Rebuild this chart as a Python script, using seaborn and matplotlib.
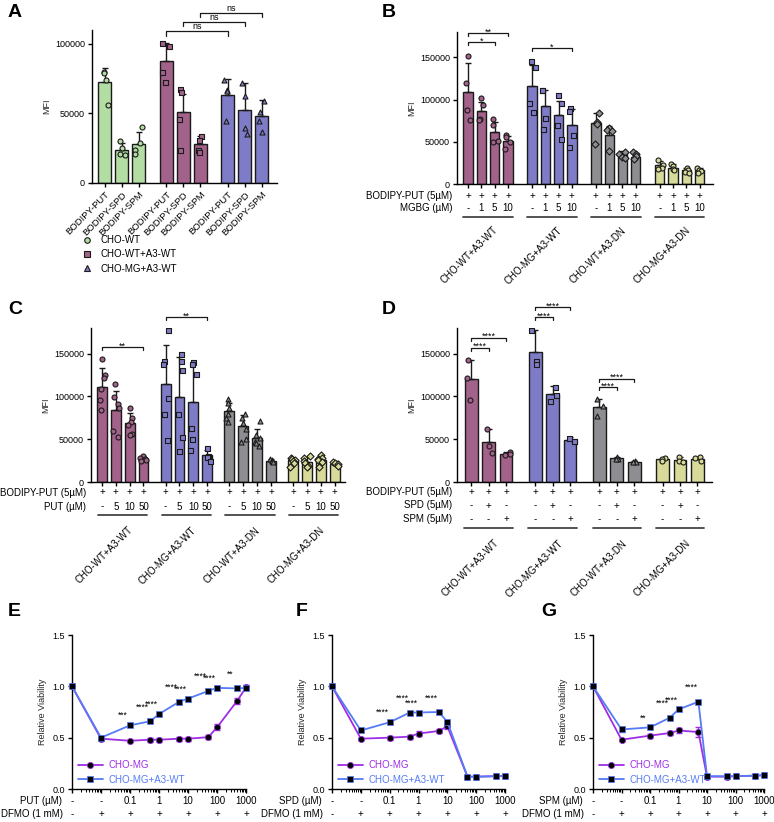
import numpy as np
import pandas as pd
import matplotlib
matplotlib.use('Agg')
import matplotlib.pyplot as plt
import matplotlib.transforms as mtrans
from matplotlib.lines import Line2D
from matplotlib.ticker import NullFormatter, FormatStrFormatter
import seaborn as sns

# ── Data ──────────────────────────────────────────────────────────────────────
# Panel A: uptake of labelled polyamines
a_lines = ['CHO-WT', 'CHO-WT+A3-WT', 'CHO-MG+A3-WT']
a_probes = ['BODIPY-PUT', 'BODIPY-SPD', 'BODIPY-SPM']
a_mean = [72500, 24000, 28000, 88000, 51000, 28000, 63000, 52500, 48000]
a_sd = [10500, 5000, 8500, 13000, 13000, 5500, 12000, 19500, 12000]
a_pts = [[80000, 79000, 74000, 56000], [30000, 25000, 21000, 20000],
         [40500, 29000, 24000, 20500], [100500, 98500, 80000, 72500],
         [67500, 65500, 46000, 24000], [33500, 31000, 23500, 22500],
         [74000, 67000, 66500, 44500], [72000, 62500, 39500, 35500],
         [59000, 51000, 44500, 36500]]
a_sig = [(3, 6, 109000, 'ns'), (4, 7, 115600, 'ns'), (5, 8, 122300, 'ns')]

cell_lines = ['CHO-WT+A3-WT', 'CHO-MG+A3-WT', 'CHO-WT+A3-DN', 'CHO-MG+A3-DN']

# Panel B: MGBG competition
b_mgbg = ['-', '1', '5', '10']
b_mean = [109000, 87000, 61500, 51000, 116500, 92000, 81500, 69500,
          72500, 57500, 35500, 32500, 22000, 19500, 16000, 16000]
b_sd = [34000, 10000, 12500, 6000, 25000, 19000, 16500, 19500,
        11500, 11500, 3000, 4000, 5000, 4000, 3500, 3000]
b_pts = [[152000, 120000, 88000, 75500], [102000, 94000, 77500, 76000],
         [76500, 70000, 51000, 50000], [57500, 56000, 50000, 41000],
         [145500, 138000, 96000, 85000], [111000, 111500, 78000, 65500],
         [105000, 96000, 70000, 53000], [90000, 87000, 57500, 43500],
         [84000, 73000, 71500, 47000], [66500, 64000, 62500, 39000],
         [38000, 35500, 32500, 31000], [38000, 35500, 33000, 29500],
         [28000, 22500, 19000, 17500], [24000, 21000, 17500, 16000],
         [19500, 17000, 14500, 13000], [19500, 17000, 15000, 13500]]
b_sig = [(0, 2, 167600, '*'), (0, 3, 179000, '**'), (4, 7, 160600, '*')]

# Panel C: PUT competition
c_put = ['-', '5', '10', '50']
c_mean = [111500, 84000, 68500, 27000, 114000, 99000, 93000, 31000,
          83000, 65000, 52000, 25000, 25500, 23500, 26000, 21500]
c_sd = [22000, 22500, 12500, 3000, 46000, 47500, 46000, 6500,
        9000, 13000, 10500, 2000, 3000, 6000, 4000, 3000]
c_pts = [[144000, 124500, 122000, 109000, 96000, 84500],
         [114000, 99000, 91000, 86000, 60000, 53000],
         [86500, 75000, 70000, 67000, 56000, 55000],
         [30000, 28500, 27000, 25500, 24500],
         [177500, 141000, 138000, 98500, 80000, 49500],
         [150000, 141000, 131000, 80000, 52500, 36000],
         [140500, 138500, 126000, 63500, 50000, 37500],
         [40000, 30000, 29000, 25000],
         [96500, 92000, 87000, 80000, 75000, 70000],
         [80000, 75000, 69000, 62000, 50000, 47000],
         [71000, 55000, 52000, 47000, 45000, 42000],
         [27000, 25500, 24500, 23500],
         [28500, 27000, 26000, 24000, 22000, 18000],
         [30000, 27500, 25000, 22000, 19000, 17000],
         [31000, 28000, 26500, 25500, 23000, 18000],
         [23500, 22000, 21000, 18500]]
c_sig = [(0, 3, 157800, '**'), (4, 7, 192700, '**')]

# Panel D: SPD / SPM competition
d_spd = ['-', '+', '-']
d_spm = ['-', '-', '+']
d_mean = [120500, 46500, 33000, 152500, 102500, 49500,
          88000, 27500, 23500, 26500, 25500, 27000]
d_sd = [22500, 15500, 2500, 25000, 9500, 3000, 9000, 2000, 1500, 2000, 4000, 2000]
d_pts = [[143000, 121000, 96000], [62500, 42000, 34000], [35500, 33000, 31500],
         [177500, 141000, 138000], [111000, 102000, 95000], [52000, 48500, 47500],
         [97000, 89000, 77500], [29500, 27000, 26500], [25000, 23500, 23000],
         [28000, 26500, 24500], [29000, 25000, 23000], [29000, 27500, 25000]]
d_sig = [(0, 1, 157000, '****'), (0, 2, 168700, '****'), (3, 4, 192400, '****'),
         (3, 5, 204100, '****'), (6, 7, 110600, '****'), (6, 8, 120800, '****')]

# Panels E-G: viability ('-' doses sit on the first two log positions)
dose = [0.001, 0.01, 0.1, 0.5, 1, 5, 10, 50, 100, 500, 1000]
dose_ticks = [0.001, 0.01, 0.1, 1, 10, 100, 1000]
dose_labels = ['-', '-', '0.1', '1', '10', '100', '1000']
dfmo_labels = ['-', '+', '+', '+', '+', '+', '+']

e_mg = [1.0, 0.49, 0.47, 0.48, 0.48, 0.49, 0.49, 0.505, 0.60, 0.86, 0.99]
e_mg_sem = [0.01, 0.01, 0.01, 0.02, 0.02, 0.02, 0.02, 0.02, 0.03, 0.03, 0.02]
e_a3 = [1.0, 0.50, 0.62, 0.66, 0.73, 0.85, 0.88, 0.955, 0.985, 0.98, 0.985]
e_a3_sem = [0.01, 0.02, 0.01, 0.01, 0.01, 0.02, 0.02, 0.02, 0.02, 0.02, 0.02]
e_stars = ['', '', '***', '****', '****', '****', '****', '****', '****', '**', '']

f_mg = [1.0, 0.49, 0.50, 0.51, 0.54, 0.565, 0.61, 0.12, 0.12, 0.125, 0.13]
f_mg_sem = [0.01, 0.01, 0.02, 0.02, 0.025, 0.02, 0.03, 0.01, 0.01, 0.01, 0.01]
f_a3 = [1.0, 0.57, 0.65, 0.745, 0.745, 0.75, 0.655, 0.12, 0.12, 0.125, 0.13]
f_a3_sem = [0.01, 0.01, 0.01, 0.01, 0.01, 0.01, 0.01, 0.01, 0.01, 0.01, 0.01]
f_stars = ['', '', '****', '****', '****', '****', '', '', '', '', '']

g_mg = [1.0, 0.48, 0.52, 0.545, 0.57, 0.555, 0.12, 0.12, 0.125, 0.13, 0.135]
g_mg_sem = [0.01, 0.01, 0.02, 0.02, 0.02, 0.05, 0.01, 0.01, 0.01, 0.01, 0.01]
g_a3 = [1.0, 0.58, 0.60, 0.695, 0.775, 0.85, 0.125, 0.125, 0.125, 0.13, 0.135]
g_a3_sem = [0.01, 0.02, 0.01, 0.01, 0.01, 0.01, 0.01, 0.01, 0.01, 0.01, 0.01]
g_stars = ['', '', '**', '****', '****', '****', '', '', '', '', '']

# ── Style ─────────────────────────────────────────────────────────────────────
GREEN, MAUVE, BLUE, GRAY, YELLOW = '#B3DDA3', '#A2628A', '#7F7CC7', '#8E8E92', '#D7DA98'
PURPLE, LBLUE = '#9E2EE6', '#557BF5'
INK = '#1a1a1a'

sns.set_theme(style='ticks')
plt.rcParams['font.family'] = ['Liberation Sans', 'DejaVu Sans']
plt.rcParams.update({
    'axes.linewidth': 1.0, 'axes.edgecolor': 'black',
    'xtick.color': 'black', 'ytick.color': 'black', 'text.color': 'black',
    'xtick.major.width': 1.0, 'ytick.major.width': 1.0,
    'xtick.major.size': 3, 'ytick.major.size': 3,
    'xtick.minor.size': 1.8, 'xtick.minor.width': 0.7,
    'xtick.labelsize': 6.5, 'ytick.labelsize': 6.5, 'axes.labelsize': 6.5,
    'xtick.major.pad': 2, 'ytick.major.pad': 2,
})

W, H = 774, 822
fig = plt.figure(figsize=(W / 100, H / 100), dpi=100)


def px_axes(x0, y0, x1, y1):
    return fig.add_axes([x0 / W, 1 - y1 / H, (x1 - x0) / W, (y1 - y0) / H])


def below(ax, dy, dx=0, data_x=True):
    base = (mtrans.blended_transform_factory(ax.transData, ax.transAxes)
            if data_x else ax.transAxes)
    return mtrans.offset_copy(base, fig=fig, x=dx, y=-dy, units='dots')


def bracket(ax, x1, x2, y, label, drop):
    ax.plot([x1, x1, x2, x2], [y - drop, y, y, y - drop], color=INK, lw=0.9,
            clip_on=False)
    dy = -2.5 if '*' in label else 0
    ax.annotate(label, ((x1 + x2) / 2, y), xytext=(0, dy), textcoords='offset points',
                ha='center', va='bottom', fontsize=6.5, annotation_clip=False)


def bar_panel(ax, pos, means, sds, pts, colors, markers, nper, width, ymax):
    for g, (col, mk) in enumerate(zip(colors, markers)):
        sl = slice(g * nper, (g + 1) * nper)
        sns.barplot(x=pos[sl], y=means[sl], native_scale=True, orient='x',
                    color=col, saturation=1, width=width, edgecolor=INK,
                    linewidth=1, errorbar=None, ax=ax, zorder=2)
        df = pd.DataFrame([(p, v) for p, vals in zip(pos[sl], pts[sl]) for v in vals],
                          columns=['pos', 'val'])
        sns.stripplot(data=df, x='pos', y='val', native_scale=True, orient='x',
                      jitter=0.25, marker=mk, color=col, edgecolor=INK,
                      linewidth=0.8, size=3.6, ax=ax, zorder=4)
    ax.errorbar(pos, means, yerr=[np.zeros(len(sds)), sds], fmt='none',
                ecolor=INK, elinewidth=1, capsize=2.5, capthick=1, zorder=3)
    ax.set_ylim(0, ymax)
    ax.set_xlabel('')
    ax.set_ylabel('MFI', labelpad=3)
    ax.set_xticks(pos)
    ax.set_xticklabels([])
    sns.despine(ax=ax)


def row_label(ax, dy, text, dx):
    ax.text(0, 0, text, transform=below(ax, dy, dx=-dx, data_x=False),
            ha='right', va='center', fontsize=7)


def group_rows(ax, pos, nper, rows, under_dy, label_dy, half):
    for dy, name, vals in rows:
        row_label(ax, dy, name, 5)
        for p, v in zip(pos, vals * (len(pos) // nper)):
            ax.text(p, 0, v, transform=below(ax, dy), ha='center', va='center',
                    fontsize=7)
    for g, name in enumerate(cell_lines):
        xs = pos[g * nper:(g + 1) * nper]
        ax.plot([xs[0] - half, xs[-1] + half], [0, 0], color='#444444', lw=1.3,
                transform=below(ax, under_dy), clip_on=False)
        ax.text((xs[0] + xs[-1]) / 2, 0, name, transform=below(ax, label_dy, dx=5),
                rotation=45, rotation_mode='anchor', ha='right', va='top', fontsize=7)


def group_positions(nper, gap, ngroups):
    return [g * (nper - 1 + gap) + i for g in range(ngroups) for i in range(nper)]


# ── Panel A ───────────────────────────────────────────────────────────────────
axA = px_axes(92, 30, 277, 183)
a_pos = group_positions(3, 1.6, 3)
bar_panel(axA, a_pos, a_mean, a_sd, a_pts, [GREEN, MAUVE, BLUE], ['o', 's', '^'],
          3, 0.76, 110000)
axA.set_xlim(-0.74, 10.08)
axA.set_yticks([0, 50000, 100000])
axA.set_xticklabels(a_probes * 3, rotation=45, ha='right', rotation_mode='anchor',
                    fontsize=6.8)
for i, j, y, lab in a_sig:
    bracket(axA, a_pos[i], a_pos[j], y, lab, 3000)
handles = [Line2D([], [], ls='none', marker=m, markersize=4, markerfacecolor=c,
                  markeredgecolor=INK, markeredgewidth=0.8)
           for m, c in zip(['o', 's', '^'], [GREEN, MAUVE, BLUE])]
fig.legend(handles, a_lines, loc='upper left', bbox_to_anchor=(82 / W, 1 - 235 / H),
           frameon=False, fontsize=7, handlelength=1, handletextpad=0.9,
           labelspacing=0.45, borderpad=0, borderaxespad=0)

# ── Panel B ───────────────────────────────────────────────────────────────────
axB = px_axes(457, 32, 713, 184)
b_pos = group_positions(4, 1.8, 4)
bar_panel(axB, b_pos, b_mean, b_sd, b_pts, [MAUVE, BLUE, GRAY, YELLOW],
          ['o', 's', 'D', 'o'], 4, 0.7, 180000)
axB.set_xlim(-0.83, 18.4)
axB.set_yticks([0, 50000, 100000, 150000])
for i, j, y, lab in b_sig:
    bracket(axB, b_pos[i], b_pos[j], y, lab, 3500)
group_rows(axB, b_pos, 4, [(12, 'BODIPY-PUT (5µM)', ['+'] * 4),
                           (24, 'MGBG (µM)', b_mgbg)], 33, 41, 0.36)

# ── Panel C ───────────────────────────────────────────────────────────────────
axC = px_axes(91, 328, 345, 482)
c_pos = group_positions(4, 1.6, 4)
bar_panel(axC, c_pos, c_mean, c_sd, c_pts, [MAUVE, BLUE, GRAY, YELLOW],
          ['o', 's', '^', 'D'], 4, 0.72, 180000)
axC.set_xlim(-0.79, 17.55)
axC.set_yticks([0, 50000, 100000, 150000])
for i, j, y, lab in c_sig:
    bracket(axC, c_pos[i], c_pos[j], y, lab, 3500)
group_rows(axC, c_pos, 4, [(10.5, 'BODIPY-PUT (5µM)', ['+'] * 4),
                           (24.5, 'PUT (µM)', c_put)], 33.5, 43, 0.28)

# ── Panel D ───────────────────────────────────────────────────────────────────
axD = px_axes(457, 328, 712, 482)
d_pos = group_positions(3, 1.7, 4)
d_pos = [p - 0.05 * (k // 3 == 3) for k, p in enumerate(d_pos)]
bar_panel(axD, d_pos, d_mean, d_sd, d_pts, [MAUVE, BLUE, GRAY, YELLOW],
          ['o', 's', '^', 'o'], 3, 0.74, 180000)
axD.set_xlim(-0.83, 13.9)
axD.set_yticks([0, 50000, 100000, 150000])
for i, j, y, lab in d_sig:
    bracket(axD, d_pos[i], d_pos[j], y, lab, 3500)
group_rows(axD, d_pos, 3, [(10, 'BODIPY-PUT (5µM)', ['+'] * 3),
                           (23.5, 'SPD (5µM)', d_spd),
                           (37, 'SPM (5µM)', d_spm)], 46, 56, 0.4)


# ── Panels E-G ────────────────────────────────────────────────────────────────
def viab_panel(ax, mg, mg_sem, a3, a3_sem, stars, drug):
    for vals, sem, col, mk, lab in [(mg, mg_sem, PURPLE, 'o', 'CHO-MG'),
                                    (a3, a3_sem, LBLUE, 's', 'CHO-MG+A3-WT')]:
        ax.errorbar(dose, vals, yerr=sem, fmt='none', ecolor=col, elinewidth=1,
                    capsize=2, capthick=1, zorder=2, clip_on=False)
        sns.lineplot(x=dose, y=vals, estimator=None, color=col, lw=1.3, marker=mk,
                     markersize=4.5, markerfacecolor='black', markeredgecolor=col,
                     markeredgewidth=0.5, label=lab, ax=ax, zorder=3, clip_on=False)
    # staggered star labels, as in the source figure
    for k, (x, y, s) in enumerate(zip(dose, a3, stars)):
        if s:
            ax.annotate(s, (x / 1.8, y + 0.05 + 0.045 * (k % 2)), ha='center',
                        va='bottom', fontsize=6.2, annotation_clip=False)
    ax.set_xscale('log')
    ax.set_xlim(0.001, 1000)
    ax.set_ylim(0, 1.5)
    ax.set_yticks([0, 0.5, 1.0, 1.5])
    ax.yaxis.set_major_formatter(FormatStrFormatter('%.1f'))
    ax.set_xticks(dose_ticks)
    ax.xaxis.set_major_formatter(NullFormatter())
    ax.xaxis.set_minor_formatter(NullFormatter())
    ax.set_xlabel('')
    ax.set_ylabel('Relative Viability', labelpad=4)
    for x, t1, t2 in zip(dose_ticks, dose_labels, dfmo_labels):
        ax.text(x, 0, t1, transform=below(ax, 12), ha='center', va='center', fontsize=7)
        ax.text(x, 0, t2, transform=below(ax, 25), ha='center', va='center', fontsize=7)
    row_label(ax, 12, f'{drug} (µM)', 10)
    row_label(ax, 25, 'DFMO (1 mM)', 9)
    ax.legend(loc='lower left', bbox_to_anchor=(0.0, -0.01), frameon=False, fontsize=7,
              handlelength=2.6, labelcolor='linecolor', borderaxespad=0.2,
              handletextpad=0.6, labelspacing=0.45)
    sns.despine(ax=ax)


axE = px_axes(72, 635, 246, 789)
viab_panel(axE, e_mg, e_mg_sem, e_a3, e_a3_sem, e_stars, 'PUT')
axF = px_axes(332, 635, 505, 789)
viab_panel(axF, f_mg, f_mg_sem, f_a3, f_a3_sem, f_stars, 'SPD')
axG = px_axes(593, 635, 764, 789)
viab_panel(axG, g_mg, g_mg_sem, g_a3, g_a3_sem, g_stars, 'SPM')

# ── Panel letters ─────────────────────────────────────────────────────────────
for lab, x, y in [('A', 8, 4), ('B', 382, 4), ('C', 8, 301), ('D', 382, 301),
                  ('E', 8, 603), ('F', 296, 603), ('G', 541, 603)]:
    fig.text(x / W, 1 - y / H, lab, fontsize=14, fontweight='bold', va='top', ha='left')

fig.savefig('out.png', dpi=100, facecolor='white')
